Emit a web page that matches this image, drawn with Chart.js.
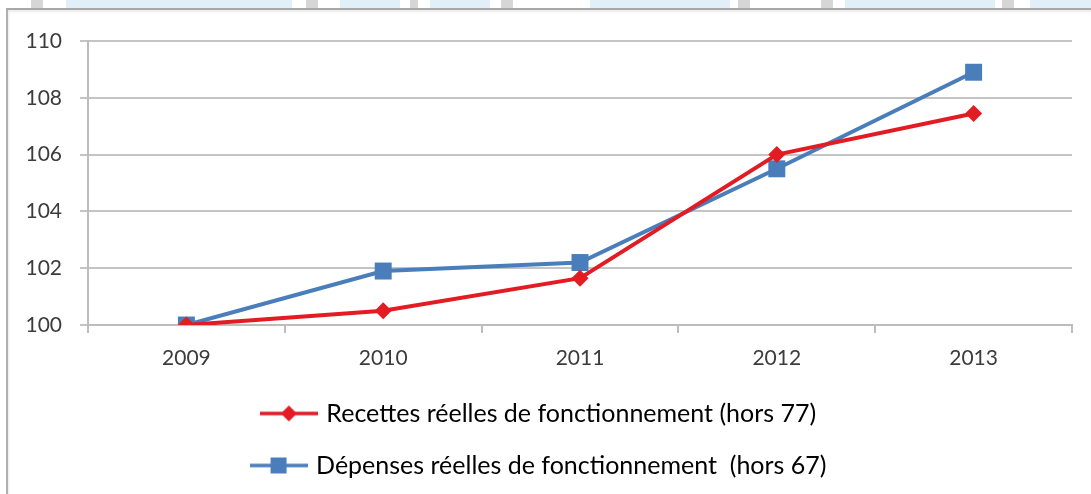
<!DOCTYPE html>
<html>
<head>
<meta charset="utf-8">
<script src="https://cdn.jsdelivr.net/npm/chart.js@4.4.1/dist/chart.umd.min.js"></script>
<style>
  html, body { margin: 0; padding: 0; background: #ffffff; }
  #wrap { position: relative; width: 1091px; height: 494px; overflow: hidden; }
  #strip { position: absolute; left: 0; top: 0; width: 1091px; height: 8px; background: #ffffff; }
  .blu { position: absolute; top: 0; height: 8px; background: #e1f0f8; }
  .gry { position: absolute; top: 0; height: 8px; background: #d6d6d6; }
  #frame { position: absolute; left: 6px; top: 8px; width: 1085px; height: 486px;
           border-top: 2px solid #a8a8a8; border-left: 2px solid #b0b0b0; box-sizing: border-box;
           box-shadow: inset 1px 2px 2px rgba(0,0,0,0.08); }
  canvas { position: absolute; left: 0; top: 0; }
</style>
</head>
<body>
<div id="wrap">
  <div id="strip">
    <div class="blu" style="left:66px;width:226px"></div>
    <div class="gry" style="left:31px;width:12px"></div>
    <div class="gry" style="left:306px;width:12px"></div>
    <div class="blu" style="left:340px;width:60px"></div>
    <div class="gry" style="left:410px;width:8px"></div>
    <div class="blu" style="left:430px;width:60px"></div>
    <div class="gry" style="left:501px;width:12px"></div>
    <div class="blu" style="left:590px;width:140px"></div>
    <div class="gry" style="left:738px;width:12px"></div>
    <div class="gry" style="left:821px;width:12px"></div>
    <div class="blu" style="left:845px;width:150px"></div>
    <div class="gry" style="left:1002px;width:12px"></div>
    <div class="blu" style="left:1030px;width:61px"></div>
  </div>
  <div id="frame"></div>
  <canvas id="c" width="1091" height="494"></canvas>
</div>
<script>
const categories = ['2009', '2010', '2011', '2012', '2013'];
const recettes = [100, 100.5, 101.65, 106.0, 107.45];
const depenses = [100, 101.9, 102.2, 105.5, 108.9];
const seriesNames = ['Recettes réelles de fonctionnement (hors 77)', 'Dépenses réelles de fonctionnement  (hors 67)'];
const yTicks = [100, 102, 104, 106, 108, 110];

const RED = '#e31b23';
const BLUE = '#4a7ebb';
const FONT = 'Lato, "Liberation Sans", sans-serif';
const TEXT = '#3c3c3c';

function legendIcon(color, style) {
  const cv = document.createElement('canvas');
  cv.width = 58; cv.height = 18;
  const g = cv.getContext('2d');
  g.strokeStyle = color; g.lineWidth = 3.5;
  g.beginPath(); g.moveTo(0, 9); g.lineTo(58, 9); g.stroke();
  g.fillStyle = color;
  if (style === 'rect') {
    g.fillRect(29 - 8, 9 - 8, 16, 16);
  } else {
    g.beginPath(); g.moveTo(29, 1); g.lineTo(37, 9); g.lineTo(29, 17); g.lineTo(21, 9); g.closePath(); g.fill();
  }
  return cv;
}
const icons = [legendIcon(RED, 'diamond'), legendIcon(BLUE, 'rect')];

new Chart(document.getElementById('c'), {
  type: 'line',
  data: {
    labels: categories,
    datasets: [
      { label: seriesNames[0], data: recettes, borderColor: RED, backgroundColor: RED,
        borderWidth: 4, pointStyle: 'rectRot', pointRadius: 8.5, pointBorderWidth: 0, tension: 0 },
      { label: seriesNames[1], data: depenses, borderColor: BLUE, backgroundColor: BLUE,
        borderWidth: 4, pointStyle: 'rect', pointRadius: 12, pointBorderWidth: 0, tension: 0 }
    ]
  },
  options: {
    responsive: false,
    animation: false,
    layout: { padding: { left: 8, right: 19, top: 41, bottom: 6 } },
    plugins: {
      tooltip: { enabled: false },
      legend: {
        position: 'bottom',
        labels: {
          usePointStyle: true,
          pointStyleWidth: 50,
          padding: 27,
          color: TEXT,
          font: { family: FONT, size: 25 },
          generateLabels(chart) {
            return chart.data.datasets.map((d, i) => ({
              text: d.label, pointStyle: icons[i], fillStyle: d.borderColor,
              strokeStyle: d.borderColor, lineWidth: 0, hidden: false, datasetIndex: i
            }));
          }
        }
      }
    },
    scales: {
      x: {
        offset: true,
        grid: { display: true, drawOnChartArea: false, offset: true, color: '#bdbdbd', lineWidth: 2, tickLength: 8 },
        border: { color: '#bdbdbd', width: 2 },
        ticks: { color: TEXT, font: { family: FONT, size: 21 }, padding: 13 },
        afterFit(s) { s.height = 49; }
      },
      y: {
        min: 100, max: 110,
        afterBuildTicks(s) { s.ticks = yTicks.map(v => ({ value: v })); },
        grid: { color: '#c4c4c4', lineWidth: 2, tickLength: 8 },
        border: { color: '#bdbdbd', width: 2 },
        ticks: { color: TEXT, font: { family: FONT, size: 21 }, padding: 18 },
        afterFit(s) { s.width = 80; }
      }
    }
  }
});
</script>
</body>
</html>
